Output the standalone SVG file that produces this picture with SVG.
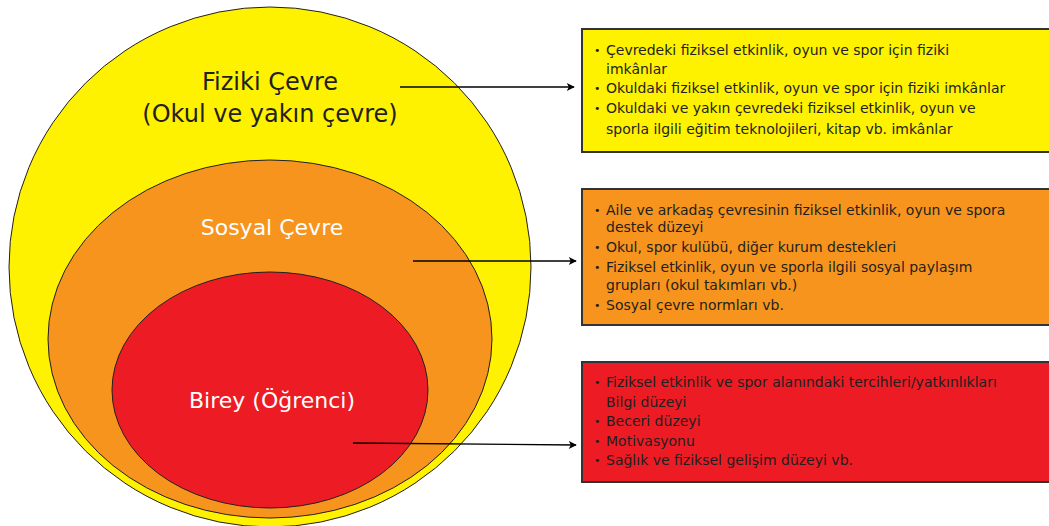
<svg xmlns="http://www.w3.org/2000/svg" width="1049" height="526" viewBox="0 0 1049 526">
  <style>
    .ring { stroke: #231F20; stroke-width: 1; }
    .box { stroke: #333333; stroke-width: 2; }
    .big { font-family: "DejaVu Sans", "Liberation Sans", sans-serif; font-size: 24px; text-anchor: middle; }
    .mid { font-family: "DejaVu Sans", "Liberation Sans", sans-serif; font-size: 22px; text-anchor: middle; fill: #FFFFFF; }
    .item { font-family: "DejaVu Sans", "Liberation Sans", sans-serif; font-size: 14px; fill: #231F20; }
    .dot { font-family: "DejaVu Sans", "Liberation Sans", sans-serif; font-size: 11px; fill: #231F20; }
    .conn { stroke: #000000; stroke-width: 1.3; fill: none; marker-end: url(#arrow); }
  </style>
  <defs>
    <marker id="arrow" viewBox="0 0 10 10" refX="9" refY="5" markerWidth="10" markerHeight="8" markerUnits="userSpaceOnUse" orient="auto">
      <path d="M0,0 L10,5 L0,10 L2.5,5 Z" fill="#000000"/>
    </marker>
  </defs>
  <rect width="1049" height="526" fill="#FFFFFF"/>

  <g id="fiziki-cevre">
    <ellipse class="ring" cx="270" cy="267" rx="261" ry="260" fill="#FFF200"/>
    <text class="big" x="270" y="90" fill="#231F20">Fiziki Çevre</text>
    <text class="big" x="270" y="122" fill="#231F20">(Okul ve yakın çevre)</text>
  </g>

  <g id="sosyal-cevre">
    <ellipse class="ring" cx="270" cy="339" rx="222" ry="179" fill="#F7941D"/>
    <text class="mid" x="272" y="235">Sosyal Çevre</text>
  </g>

  <g id="birey">
    <ellipse class="ring" cx="270" cy="390" rx="158" ry="118" fill="#ED1C24"/>
    <text class="mid" x="272" y="408">Birey (Öğrenci)</text>
  </g>

  <g id="box-fiziki">
    <rect class="box" x="582" y="29" width="480" height="123" fill="#FFF200"/>
    <text class="dot" x="594" y="54">•</text>
    <text class="item" x="606" y="55">Çevredeki fiziksel etkinlik, oyun ve spor için  fiziki</text>
    <text class="item" x="606" y="74">imkânlar</text>
    <text class="dot" x="594" y="92">•</text>
    <text class="item" x="606" y="93">Okuldaki fiziksel etkinlik, oyun ve spor için fiziki imkânlar</text>
    <text class="dot" x="594" y="112">•</text>
    <text class="item" x="606" y="113">Okuldaki ve yakın çevredeki fiziksel etkinlik, oyun ve</text>
    <text class="item" x="606" y="134">sporla ilgili eğitim teknolojileri, kitap vb. imkânlar</text>
  </g>

  <g id="box-sosyal">
    <rect class="box" x="582" y="189" width="480" height="136" fill="#F7941D"/>
    <text class="dot" x="594" y="214">•</text>
    <text class="item" x="606" y="215">Aile ve arkadaş çevresinin fiziksel etkinlik, oyun ve spora</text>
    <text class="item" x="606" y="232">destek düzeyi</text>
    <text class="dot" x="594" y="251">•</text>
    <text class="item" x="606" y="252">Okul, spor kulübü, diğer kurum destekleri</text>
    <text class="dot" x="594" y="271">•</text>
    <text class="item" x="606" y="272">Fiziksel etkinlik, oyun ve sporla ilgili sosyal paylaşım</text>
    <text class="item" x="606" y="290">grupları (okul takımları vb.)</text>
    <text class="dot" x="594" y="309">•</text>
    <text class="item" x="606" y="310">Sosyal çevre normları vb.</text>
  </g>

  <g id="box-birey">
    <rect class="box" x="582" y="362" width="480" height="120" fill="#ED1C24"/>
    <text class="dot" x="594" y="386">•</text>
    <text class="item" x="606" y="387">Fiziksel etkinlik ve spor alanındaki tercihleri/yatkınlıkları</text>
    <text class="item" x="606" y="407">Bilgi düzeyi</text>
    <text class="dot" x="594" y="425">•</text>
    <text class="item" x="606" y="426">Beceri düzeyi</text>
    <text class="dot" x="594" y="445">•</text>
    <text class="item" x="606" y="446">Motivasyonu</text>
    <text class="dot" x="594" y="464">•</text>
    <text class="item" x="606" y="465">Sağlık ve fiziksel gelişim düzeyi vb.</text>
  </g>

  <g id="connectors">
    <line class="conn" x1="400" y1="87" x2="574" y2="87"/>
    <line class="conn" x1="413" y1="261" x2="576" y2="261"/>
    <line class="conn" x1="353" y1="443" x2="576" y2="445"/>
  </g>
</svg>
